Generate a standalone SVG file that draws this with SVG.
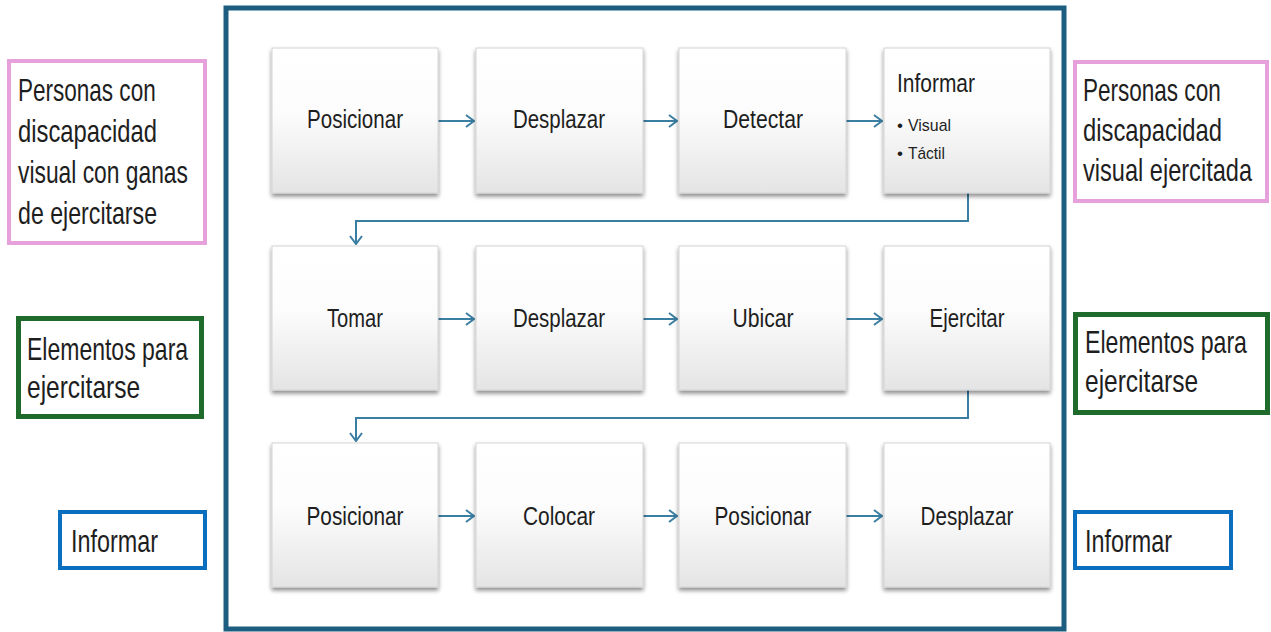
<svg xmlns="http://www.w3.org/2000/svg" width="1271" height="632" viewBox="0 0 1271 632">
  <defs>
    <linearGradient id="boxFill" x1="0" y1="0" x2="0" y2="1">
      <stop offset="0" stop-color="#ffffff"/>
      <stop offset="0.45" stop-color="#fcfcfc"/>
      <stop offset="1" stop-color="#e4e4e4"/>
    </linearGradient>
    <filter id="shadow" x="-10%" y="-10%" width="120%" height="125%">
      <feDropShadow dx="0" dy="3" stdDeviation="2" flood-color="#000" flood-opacity="0.45"/>
    </filter>
    <marker id="chev" viewBox="0 0 10 14" refX="9" refY="7" markerWidth="10" markerHeight="14" markerUnits="userSpaceOnUse" orient="auto">
      <path d="M1,1 L9,7 L1,13" fill="none" stroke="#3a7ea2" stroke-width="2"/>
    </marker>
  </defs>
  <style>
    .box { fill: url(#boxFill); stroke: #d4d4d4; stroke-width: 1; filter: url(#shadow); }
    .lbl { font-family: "Liberation Sans", Arial, sans-serif; font-size: 25px; fill: #1e1e1e; text-anchor: middle; }
    .sub { font-family: "Liberation Sans", Arial, sans-serif; font-size: 17px; fill: #1e1e1e; }
    .side { font-family: "Liberation Sans", Arial, sans-serif; font-size: 32px; fill: #1e1e1e; }
    .link { fill: none; stroke: #3a7ea2; stroke-width: 2; marker-end: url(#chev); }
    .pink { fill: #fff; stroke: #e6a1dd; stroke-width: 4; }
    .green { fill: #fff; stroke: #1e6b2b; stroke-width: 5; }
    .blue { fill: #fff; stroke: #0b6fc0; stroke-width: 4; }
  </style>

  <rect width="1271" height="632" fill="#ffffff"/>

  <!-- outer frame -->
  <rect id="frame" x="226" y="8" width="838" height="621" fill="none" stroke="#1d5e80" stroke-width="5"/>

  <!-- connectors -->
  <g id="connectors">
    <path class="link" d="M438,121 H474"/>
    <path class="link" d="M643,121 H677"/>
    <path class="link" d="M846,121 H882"/>
    <path class="link" d="M968,193 V221 H356 V244"/>
    <path class="link" d="M438,319 H474"/>
    <path class="link" d="M643,319 H677"/>
    <path class="link" d="M846,319 H882"/>
    <path class="link" d="M968,390 V418 H356 V441"/>
    <path class="link" d="M438,516 H474"/>
    <path class="link" d="M643,516 H677"/>
    <path class="link" d="M846,516 H882"/>
  </g>

  <!-- row 1 -->
  <g id="n1"><rect class="box" x="272" y="48" width="166" height="145"/><text class="lbl" x="355" y="128" textLength="96" lengthAdjust="spacingAndGlyphs">Posicionar</text></g>
  <g id="n2"><rect class="box" x="476" y="48" width="167" height="145"/><text class="lbl" x="559" y="128" textLength="92" lengthAdjust="spacingAndGlyphs">Desplazar</text></g>
  <g id="n3"><rect class="box" x="679" y="48" width="167" height="145"/><text class="lbl" x="763" y="128" textLength="80" lengthAdjust="spacingAndGlyphs">Detectar</text></g>
  <g id="n4"><rect class="box" x="884" y="48" width="166" height="145"/>
    <text class="lbl" x="897" y="92" style="text-anchor:start" textLength="78" lengthAdjust="spacingAndGlyphs">Informar</text>
    <text class="sub" x="897" y="131">•</text><text class="sub" x="908" y="131" textLength="43" lengthAdjust="spacingAndGlyphs">Visual</text>
    <text class="sub" x="897" y="159">•</text><text class="sub" x="908" y="159" textLength="37" lengthAdjust="spacingAndGlyphs">Táctil</text>
  </g>

  <!-- row 2 -->
  <g id="n5"><rect class="box" x="272" y="246" width="166" height="144"/><text class="lbl" x="355" y="327" textLength="56" lengthAdjust="spacingAndGlyphs">Tomar</text></g>
  <g id="n6"><rect class="box" x="476" y="246" width="167" height="144"/><text class="lbl" x="559" y="327" textLength="92" lengthAdjust="spacingAndGlyphs">Desplazar</text></g>
  <g id="n7"><rect class="box" x="679" y="246" width="167" height="144"/><text class="lbl" x="763" y="327" textLength="61" lengthAdjust="spacingAndGlyphs">Ubicar</text></g>
  <g id="n8"><rect class="box" x="884" y="246" width="166" height="144"/><text class="lbl" x="967" y="327" textLength="75" lengthAdjust="spacingAndGlyphs">Ejercitar</text></g>

  <!-- row 3 -->
  <g id="n9"><rect class="box" x="272" y="443" width="166" height="144"/><text class="lbl" x="355" y="525" textLength="97" lengthAdjust="spacingAndGlyphs">Posicionar</text></g>
  <g id="n10"><rect class="box" x="476" y="443" width="167" height="144"/><text class="lbl" x="559" y="525" textLength="72" lengthAdjust="spacingAndGlyphs">Colocar</text></g>
  <g id="n11"><rect class="box" x="679" y="443" width="167" height="144"/><text class="lbl" x="763" y="525" textLength="97" lengthAdjust="spacingAndGlyphs">Posicionar</text></g>
  <g id="n12"><rect class="box" x="884" y="443" width="166" height="144"/><text class="lbl" x="967" y="525" textLength="93" lengthAdjust="spacingAndGlyphs">Desplazar</text></g>

  <!-- inputs (left); side captions are horizontally condensed -->
  <g id="in-personas">
    <rect class="pink" x="9" y="61" width="196" height="182"/>
    <text class="side" transform="translate(18,101) scale(0.704,1)">Personas con</text>
    <text class="side" transform="translate(18,142) scale(0.744,1)">discapacidad</text>
    <text class="side" transform="translate(18,183) scale(0.713,1)">visual con ganas</text>
    <text class="side" transform="translate(18,224) scale(0.724,1)">de ejercitarse</text>
  </g>
  <g id="in-elementos">
    <rect class="green" x="18.5" y="318.5" width="183" height="98"/>
    <text class="side" transform="translate(27,360) scale(0.719,1)">Elementos para</text>
    <text class="side" transform="translate(27,398) scale(0.766,1)">ejercitarse</text>
  </g>
  <g id="in-informar">
    <rect class="blue" x="60" y="512" width="145" height="56"/>
    <text class="side" transform="translate(71,552) scale(0.73,1)">Informar</text>
  </g>

  <!-- outputs (right) -->
  <g id="out-personas">
    <rect class="pink" x="1075" y="62" width="192" height="139"/>
    <text class="side" transform="translate(1083,101) scale(0.704,1)">Personas con</text>
    <text class="side" transform="translate(1083,141) scale(0.744,1)">discapacidad</text>
    <text class="side" transform="translate(1083,181) scale(0.737,1)">visual ejercitada</text>
  </g>
  <g id="out-elementos">
    <rect class="green" x="1075.5" y="314.5" width="192" height="98"/>
    <text class="side" transform="translate(1085,353) scale(0.723,1)">Elementos para</text>
    <text class="side" transform="translate(1085,392) scale(0.766,1)">ejercitarse</text>
  </g>
  <g id="out-informar">
    <rect class="blue" x="1075" y="512" width="156" height="56"/>
    <text class="side" transform="translate(1085,552) scale(0.73,1)">Informar</text>
  </g>
</svg>
